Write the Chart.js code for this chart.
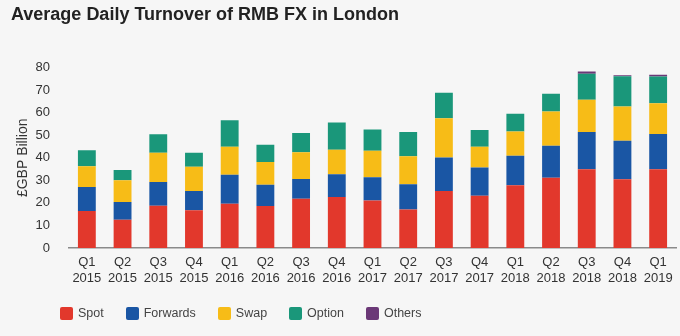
<!DOCTYPE html>
<html>
<head>
<meta charset="utf-8">
<script src="https://cdn.jsdelivr.net/npm/chart.js@4"></script>
<style>
    html, body { margin: 0; padding: 0; background: #f6f6f6; }
    #wrap { position: relative; width: 680px; height: 336px; }
    #legend {
        position: absolute; left: 60px; top: 306px;
        display: flex; align-items: center; gap: 22px;
        font: 12.5px "Liberation Sans", Arial, sans-serif; color: #444;
    }
    #legend span.item { display: flex; align-items: center; }
    #legend i { display: inline-block; width: 13px; height: 13px; border-radius: 2px; margin-right: 5px; }
</style>
</head>
<body>
<div id="wrap">
    <canvas id="turnoverChart" width="680" height="336"></canvas>
    <div id="legend"></div>
</div>
<script>
// Average daily turnover of RMB FX in London, GBP billion
const quarters = ['Q1 2015', 'Q2 2015', 'Q3 2015', 'Q4 2015', 'Q1 2016', 'Q2 2016', 'Q3 2016', 'Q4 2016',
    'Q1 2017', 'Q2 2017', 'Q3 2017', 'Q4 2017', 'Q1 2018', 'Q2 2018', 'Q3 2018', 'Q4 2018', 'Q1 2019'];
const spot     = [16.4, 12.5, 18.7, 16.7, 19.6, 18.6, 21.8, 22.6, 21.1, 17.1, 25.3, 23.2, 27.8, 31.2, 34.9, 30.5, 34.9];
const forwards = [10.7, 7.9, 10.6, 8.6, 12.9, 9.5, 8.8, 10.1, 10.3, 11.2, 14.8, 12.5, 13.1, 14.1, 16.5, 17.1, 15.7];
const swap     = [9.2, 9.6, 12.9, 10.7, 12.4, 10.0, 11.9, 10.9, 11.7, 12.4, 17.4, 9.2, 10.8, 15.2, 14.3, 15.1, 13.6];
const option   = [7.1, 4.6, 8.2, 6.2, 11.8, 7.7, 8.5, 12.1, 9.5, 10.7, 11.3, 7.4, 7.8, 7.9, 11.6, 13.5, 11.8];
const others   = [0, 0, 0, 0, 0, 0, 0, 0, 0, 0, 0, 0, 0, 0, 1.0, 0.4, 0.8];
const yTicks = [0, 10, 20, 30, 40, 50, 60, 70, 80];

const seriesNames = ['Spot', 'Forwards', 'Swap', 'Option', 'Others'];
const seriesColors = ['#e2382c', '#1a56a4', '#f7bc17', '#1a977a', '#6b3877'];
const seriesData = [spot, forwards, swap, option, others];

const font = '"Liberation Sans", Arial, sans-serif';

const ctx = document.getElementById('turnoverChart').getContext('2d');
const turnoverChart = new Chart(ctx, {
    type: 'bar',
    data: {
        labels: quarters.map(q => q.split(' ')),
        datasets: seriesNames.map((name, i) => ({
            label: name,
            data: seriesData[i],
            backgroundColor: seriesColors[i],
            borderWidth: 0,
            barPercentage: 0.5,
            categoryPercentage: 1.0
        }))
    },
    options: {
        responsive: false,
        animation: false,
        layout: {
            padding: { left: 11, right: 4, top: 0, bottom: 52 }
        },
        plugins: {
            legend: { display: false },
            tooltip: { enabled: false },
            title: {
                display: true,
                text: 'Average Daily Turnover of RMB FX in London',
                align: 'start',
                color: '#222',
                font: { family: font, size: 18, weight: 'bold' },
                padding: { top: 4, bottom: 42 }
            }
        },
        scales: {
            x: {
                stacked: true,
                grid: { display: false },
                border: { display: true, color: '#8a8a8a', width: 1.5 },
                ticks: {
                    color: '#333',
                    padding: -2,
                    maxRotation: 0,
                    font: { family: font, size: 13, lineHeight: 1.23 }
                }
            },
            y: {
                stacked: true,
                min: 0,
                max: 80,
                afterBuildTicks: scale => {
                    scale.ticks = yTicks.map(v => ({ value: v }));
                },
                afterFit: scale => {
                    scale.width = 58;
                },
                grid: { display: false },
                border: { display: false },
                ticks: {
                    color: '#333',
                    padding: 11,
                    font: { family: font, size: 13 }
                },
                title: {
                    display: true,
                    text: '£GBP Billion',
                    color: '#333',
                    font: { family: font, size: 14 },
                    padding: { top: 4, bottom: 4 }
                }
            }
        }
    }
});

// HTML legend under the chart
const legendEl = document.getElementById('legend');
seriesNames.forEach((name, i) => {
    const item = document.createElement('span');
    item.className = 'item';
    item.innerHTML = `<i style="background:${seriesColors[i]}"></i>${name}`;
    legendEl.appendChild(item);
});
</script>
</body>
</html>
